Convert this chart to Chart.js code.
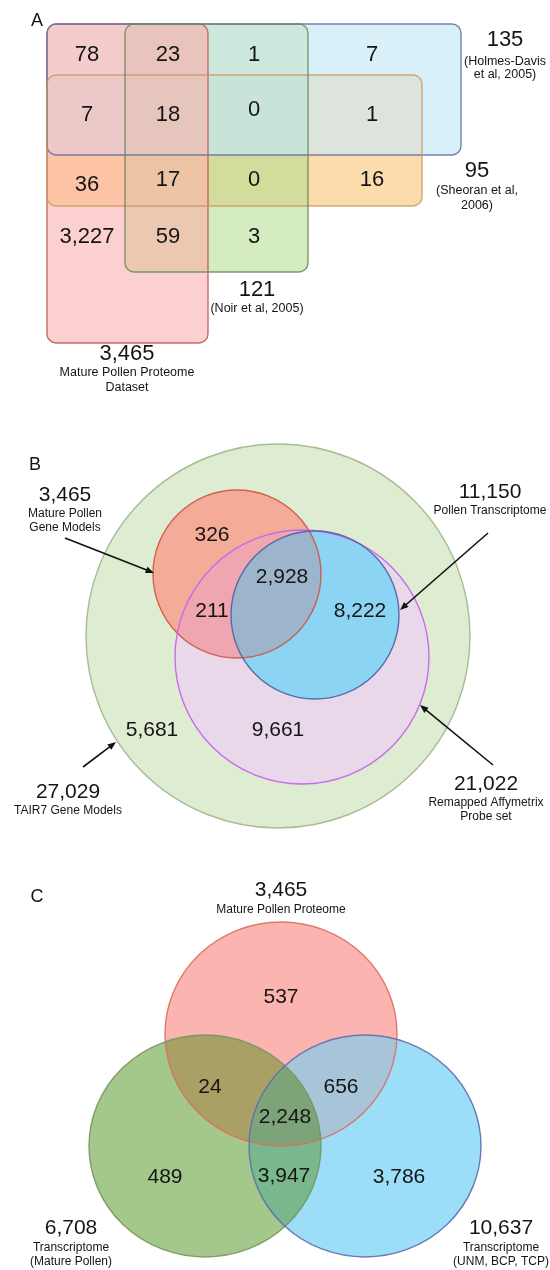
<!DOCTYPE html>
<html>
<head>
<meta charset="utf-8">
<title>Pollen proteome overlaps</title>
<script src="https://cdn.jsdelivr.net/npm/chart.js@4/dist/chart.umd.min.js"></script>
<style>
  html, body { margin: 0; padding: 0; background: #ffffff; }
  #wrap { width: 550px; height: 1270px; position: relative; }
</style>
</head>
<body>
<div id="wrap"><canvas id="venn" width="550" height="1270"></canvas></div>
<script>
// ---------- A: overlap of four pollen proteome studies ----------
const studyNames = ['Mature Pollen Proteome', 'Holmes-Davis et al, 2005', 'Sheoran et al, 2006', 'Noir et al, 2005'];
const studyTotals = [3465, 135, 95, 121];
const studyCaptions = [['Mature Pollen Proteome', 'Dataset'], ['(Holmes-Davis', 'et al, 2005)'], ['(Sheoran et al,', '2006)'], ['(Noir et al, 2005)']];
// membership of each cell (indices into studyNames) and its count
const studyCellSets = [[0,1],[0,1,3],[1,3],[1],[0,1,2],[0,1,2,3],[1,2,3],[1,2],[0,2],[0,2,3],[2,3],[2],[0],[0,3],[3]];
const studyCellCounts = [78, 23, 1, 7, 7, 18, 0, 1, 36, 17, 0, 16, 3227, 59, 3];

// ---------- B: gene models, probe sets and transcriptome ----------
const geneNames = ['TAIR7 Gene Models', 'Mature Pollen Gene Models', 'Remapped Affymetrix Probe set', 'Pollen Transcriptome'];
const geneTotals = [27029, 3465, 21022, 11150];
const geneCaptions = [['TAIR7 Gene Models'], ['Mature Pollen', 'Gene Models'], ['Remapped Affymetrix', 'Probe set'], ['Pollen Transcriptome']];
const geneRegionCounts = [5681, 326, 211, 2928, 8222, 9661];

// ---------- C: proteome vs. two transcriptomes ----------
const compNames = ['Mature Pollen Proteome', 'Transcriptome (Mature Pollen)', 'Transcriptome (UNM, BCP, TCP)'];
const compTotals = [3465, 6708, 10637];
const compCaptions = [['Mature Pollen Proteome'], ['Transcriptome', '(Mature Pollen)'], ['Transcriptome', '(UNM, BCP, TCP)']];
const compRegionSets = [[0],[1],[2],[0,1],[0,2],[1,2],[0,1,2]];
const compRegionCounts = [537, 489, 3786, 24, 656, 3947, 2248];

// ---------- geometry (in plot units; axes span the whole page) ----------
const layoutA = {
  shapes: [
    { kind: 'rect', x0: 47, y0: 24, x1: 208, y1: 343, r: 9, stroke: 'rgba(190,95,85,0.9)' },
    { kind: 'rect', x0: 47, y0: 24, x1: 461, y1: 155, r: 9, stroke: 'rgba(105,115,165,0.9)' },
    { kind: 'rect', x0: 47, y0: 75, x1: 422, y1: 206, r: 9, stroke: 'rgba(200,150,95,0.8)' },
    { kind: 'rect', x0: 125, y0: 24, x1: 308, y1: 272, r: 9, stroke: 'rgba(105,135,95,0.85)' }
  ],
  fills: {
    '0': '#fcd0d0', '1': '#d8f0f8', '2': '#fcdcac', '3': '#d4ecc0',
    '0,1': '#f4cccc', '0,2': '#fcc4a4', '0,3': '#ecc8b0', '1,2': '#dce4dc', '1,3': '#cce8dc', '2,3': '#d4dc9c',
    '0,1,2': '#ecc8c8', '0,1,3': '#e8c4bc', '0,2,3': '#ecc4a4', '1,2,3': '#c8e4d8', '0,1,2,3': '#e6c6bc'
  },
  cells: [[87,55],[168,55],[254,55],[372,55],[87,115],[168,115],[254,110],[372,115],[87,185],[168,180],[254,180],[372,180],[87,237],[168,237],[254,237]],
  totals: [[127,354],[505,40],[477,171],[257,290]],
  letter: [37, 21]
};

const layoutB = {
  shapes: [
    { kind: 'ellipse', cx: 278, cy: 636, rx: 192, ry: 192, stroke: 'rgba(160,182,140,0.9)' },
    { kind: 'ellipse', cx: 237, cy: 574, rx: 84, ry: 84, stroke: 'rgba(205,85,65,0.9)' },
    { kind: 'ellipse', cx: 302, cy: 657, rx: 127, ry: 127, stroke: 'rgba(200,100,235,0.95)' },
    { kind: 'ellipse', cx: 315, cy: 615, rx: 84, ry: 84, stroke: 'rgba(80,95,165,0.9)' }
  ],
  fills: {
    '0': '#deecd2', '0,1': '#f4ac98', '0,2': '#e8d8ea', '0,3': '#8cd4f4',
    '0,1,2': '#f0a6b0', '0,1,3': '#9cb4cc', '0,2,3': '#8cd4f4', '0,1,2,3': '#9cb4cc'
  },
  // order follows geneRegionCounts
  regions: [[152,730],[212,535],[212,611],[282,577],[360,611],[278,730]],
  totals: [[68,792],[65,495],[486,784],[490,492]],
  arrows: [[83,767,116,742],[65,538,154,573],[493,765,420,705],[488,533,400,610]],
  letter: [35, 465]
};

const layoutC = {
  shapes: [
    { kind: 'ellipse', cx: 281, cy: 1034, rx: 116, ry: 112, stroke: 'rgba(220,110,95,0.9)' },
    { kind: 'ellipse', cx: 205, cy: 1146, rx: 116, ry: 111, stroke: 'rgba(120,150,100,0.9)' },
    { kind: 'ellipse', cx: 365, cy: 1146, rx: 116, ry: 111, stroke: 'rgba(95,110,175,0.9)' }
  ],
  fills: {
    '0': '#fcb4b0', '1': '#a4c88c', '2': '#9cdef8',
    '0,1': '#a8a064', '0,2': '#a8c4d8', '1,2': '#78b88c', '0,1,2': '#7ca478'
  },
  // order follows compRegionSets
  regions: [[281,997],[165,1177],[399,1177],[210,1087],[341,1087],[284,1176],[285,1117]],
  totals: [[281,890],[71,1228],[501,1228]],
  letter: [37, 897]
};

const FONT = '"Liberation Sans", Arial, Helvetica, sans-serif';
const fmt = n => n.toLocaleString('en-US');

function tracePath(ctx, s, X, Y) {
  ctx.beginPath();
  if (s.kind === 'rect') {
    const x0 = X(s.x0), y0 = Y(s.y0), x1 = X(s.x1), y1 = Y(s.y1);
    ctx.roundRect(Math.min(x0, x1), Math.min(y0, y1), Math.abs(x1 - x0), Math.abs(y1 - y0), s.r);
  } else {
    const rx = Math.abs(X(s.cx + s.rx) - X(s.cx));
    const ry = Math.abs(Y(s.cy + s.ry) - Y(s.cy));
    ctx.ellipse(X(s.cx), Y(s.cy), rx, ry, 0, 0, Math.PI * 2);
  }
}

// Paint every membership combination, smallest first, each clipped to the
// intersection of its sets, so each point ends up with its full-membership colour.
function paintDiagram(ctx, area, layout, X, Y) {
  const combos = Object.keys(layout.fills).map(k => k.split(',').map(Number))
    .sort((a, b) => a.length - b.length);
  combos.forEach(c => {
    ctx.save();
    c.forEach(i => { tracePath(ctx, layout.shapes[i], X, Y); ctx.clip(); });
    ctx.fillStyle = layout.fills[c.join(',')];
    ctx.fillRect(area.left, area.top, area.right - area.left, area.bottom - area.top);
    ctx.restore();
  });
  layout.shapes.forEach(s => {
    tracePath(ctx, s, X, Y);
    ctx.lineWidth = 1.4;
    ctx.strokeStyle = s.stroke;
    ctx.stroke();
  });
}

function text(ctx, str, x, y, size) {
  ctx.font = size + 'px ' + FONT;
  ctx.fillText(str, x, y);
}

function totalLabel(ctx, total, lines, pos, X, Y, bigSize, smallSize, gaps) {
  const x = X(pos[0]), y = Y(pos[1]);
  text(ctx, fmt(total), x, y, bigSize);
  lines.forEach((ln, i) => text(ctx, ln, x, y + gaps[0] + i * gaps[1], smallSize));
}

function arrow(ctx, a, X, Y) {
  const x0 = X(a[0]), y0 = Y(a[1]), x1 = X(a[2]), y1 = Y(a[3]);
  const ang = Math.atan2(y1 - y0, x1 - x0);
  const head = 9, spread = 0.38;
  ctx.strokeStyle = '#111';
  ctx.lineWidth = 1.6;
  ctx.beginPath();
  ctx.moveTo(x0, y0);
  ctx.lineTo(x1 - Math.cos(ang) * head * 0.8, y1 - Math.sin(ang) * head * 0.8);
  ctx.stroke();
  ctx.fillStyle = '#111';
  ctx.beginPath();
  ctx.moveTo(x1, y1);
  ctx.lineTo(x1 - head * Math.cos(ang - spread), y1 - head * Math.sin(ang - spread));
  ctx.lineTo(x1 - head * Math.cos(ang + spread), y1 - head * Math.sin(ang + spread));
  ctx.closePath();
  ctx.fill();
}

const vennPlugin = {
  id: 'vennPanels',
  afterDraw(chart) {
    const ctx = chart.ctx;
    const area = chart.chartArea;
    const X = v => chart.scales.x.getPixelForValue(v);
    const Y = v => chart.scales.y.getPixelForValue(v);

    paintDiagram(ctx, area, layoutA, X, Y);
    paintDiagram(ctx, area, layoutB, X, Y);
    paintDiagram(ctx, area, layoutC, X, Y);

    ctx.save();
    ctx.textAlign = 'center';
    ctx.textBaseline = 'middle';
    ctx.fillStyle = '#151515';

    // panel letters
    text(ctx, 'A', X(layoutA.letter[0]), Y(layoutA.letter[1]), 18);
    text(ctx, 'B', X(layoutB.letter[0]), Y(layoutB.letter[1]), 18);
    text(ctx, 'C', X(layoutC.letter[0]), Y(layoutC.letter[1]), 18);

    // A: cell counts and set totals
    studyCellCounts.forEach((n, i) => {
      const p = layoutA.cells[i];
      text(ctx, fmt(n), X(p[0]), Y(p[1]), 22);
    });
    studyTotals.forEach((t, i) => {
      const gaps = i === 1 ? [22, 13] : i === 2 ? [20, 15] : [19, 15];
      totalLabel(ctx, t, studyCaptions[i], layoutA.totals[i], X, Y, 22, 12.5, gaps);
    });

    // B: region counts, set totals and pointers
    geneRegionCounts.forEach((n, i) => {
      const p = layoutB.regions[i];
      text(ctx, fmt(n), X(p[0]), Y(p[1]), 21);
    });
    geneTotals.forEach((t, i) => {
      ctx.fillStyle = '#151515';
      totalLabel(ctx, t, geneCaptions[i], layoutB.totals[i], X, Y, 21, 12, [19, 14]);
    });
    layoutB.arrows.forEach(a => arrow(ctx, a, X, Y));

    // C: region counts and set totals
    ctx.fillStyle = '#151515';
    compRegionCounts.forEach((n, i) => {
      const p = layoutC.regions[i];
      text(ctx, fmt(n), X(p[0]), Y(p[1]), 21);
    });
    compTotals.forEach((t, i) => {
      totalLabel(ctx, t, compCaptions[i], layoutC.totals[i], X, Y, 21, 12, [20, 14]);
    });
    ctx.restore();
  }
};

new Chart(document.getElementById('venn'), {
  type: 'scatter',
  data: { datasets: [] },
  options: {
    responsive: false,
    animation: false,
    devicePixelRatio: 1,
    layout: { padding: 0 },
    plugins: { legend: { display: false }, tooltip: { enabled: false } },
    scales: {
      x: { type: 'linear', min: 0, max: 550, display: false },
      y: { type: 'linear', min: 0, max: 1270, reverse: true, display: false }
    }
  },
  plugins: [vennPlugin]
});
</script>
</body>
</html>
